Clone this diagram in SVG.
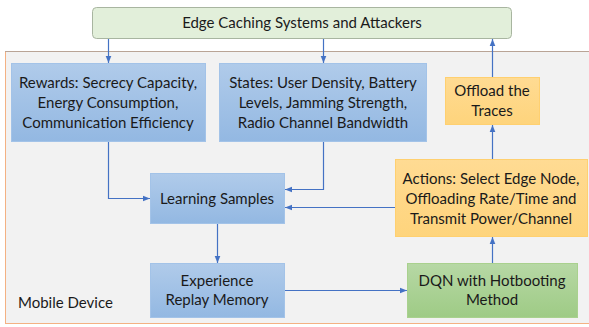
<svg xmlns="http://www.w3.org/2000/svg" width="589" height="327" viewBox="0 0 589 327">
<defs>
<linearGradient id="gBlue" x1="0" y1="0" x2="0" y2="1"><stop offset="0" stop-color="#b0cbea"/><stop offset="1" stop-color="#93b8e2"/></linearGradient>
<linearGradient id="gGreen" x1="0" y1="0" x2="0" y2="1"><stop offset="0" stop-color="#b7d8a5"/><stop offset="1" stop-color="#9ecb85"/></linearGradient>
<linearGradient id="gOrange" x1="0" y1="0" x2="0" y2="1"><stop offset="0" stop-color="#ffdb93"/><stop offset="1" stop-color="#fed47c"/></linearGradient>
<marker id="arr" viewBox="0 0 10 10" refX="10" refY="5" markerWidth="7" markerHeight="7" markerUnits="userSpaceOnUse" orient="auto"><path d="M0,1 L10,5 L0,9 z" fill="#4472c4"/></marker>
<style>
text{font-family:Lato,"Open Sans","Liberation Sans",sans-serif;font-size:15px;fill:#1a1a1a;text-anchor:middle}
.blue{fill:url(#gBlue);stroke:#a3c3e8;stroke-width:1}
.orange{fill:url(#gOrange);stroke:#ffd070;stroke-width:1}
.green{fill:url(#gGreen);stroke:#a9d18e;stroke-width:1}
.conn path{fill:none;stroke:#4472c4;stroke-width:1.2;marker-end:url(#arr)}
</style>
</defs>
<rect width="589" height="327" fill="#ffffff"/>
<g id="mobile-device">
<rect x="5.5" y="51.5" width="590" height="272" fill="#f2f2f2" stroke="#f4b183" stroke-width="1"/>
<line x1="5" y1="51.5" x2="589" y2="51.5" stroke="#b9a496" stroke-width="1"/>
<text x="18" y="308" style="text-anchor:start">Mobile Device</text>
</g>
<g id="edge">
<rect x="92.5" y="7.5" width="419" height="31" rx="4" fill="#e2efda" stroke="#a8b5a0"/>
<text x="302" y="28">Edge Caching Systems and Attackers</text>
</g>
<g id="rewards">
<rect class="blue" x="11.5" y="63.5" width="194" height="78"/>
<text x="108" y="88">Rewards: Secrecy Capacity,</text>
<text x="108" y="108">Energy Consumption,</text>
<text x="108" y="128">Communication Efficiency</text>
</g>
<g id="states">
<rect class="blue" x="219.5" y="63.5" width="207" height="78"/>
<text x="323" y="88">States: User Density, Battery</text>
<text x="323" y="108">Levels, Jamming Strength,</text>
<text x="323" y="128">Radio Channel Bandwidth</text>
</g>
<g id="offload">
<rect class="orange" x="445.5" y="77.5" width="94" height="47"/>
<text x="492" y="96">Offload the</text>
<text x="492" y="116">Traces</text>
</g>
<g id="actions">
<rect class="orange" x="395.5" y="159.5" width="192" height="77"/>
<text x="491" y="184">Actions: Select Edge Node,</text>
<text x="491" y="204">Offloading Rate/Time and</text>
<text x="491" y="224">Transmit Power/Channel</text>
</g>
<g id="learning">
<rect class="blue" x="150.5" y="173.5" width="134" height="50"/>
<text x="217" y="204">Learning Samples</text>
</g>
<g id="experience">
<rect class="blue" x="150.5" y="263.5" width="134" height="54"/>
<text x="217" y="286">Experience</text>
<text x="217" y="305">Replay Memory</text>
</g>
<g id="dqn">
<rect class="green" x="407.5" y="263.5" width="170" height="54"/>
<text x="492" y="286">DQN with Hotbooting</text>
<text x="492" y="305">Method</text>
</g>
<g class="conn" id="connectors">
<path d="M108.5,39 V63"/>
<path d="M323.5,39 V63"/>
<path d="M492.5,77 V39"/>
<path d="M108.5,142 V198.5 H150"/>
<path d="M323.5,142 V189.5 H285"/>
<path d="M395,207.5 H285"/>
<path d="M217.5,224 V263"/>
<path d="M285,290.5 H407"/>
<path d="M492.5,263 V237"/>
<path d="M492.5,159 V125"/>
</g>
</svg>
